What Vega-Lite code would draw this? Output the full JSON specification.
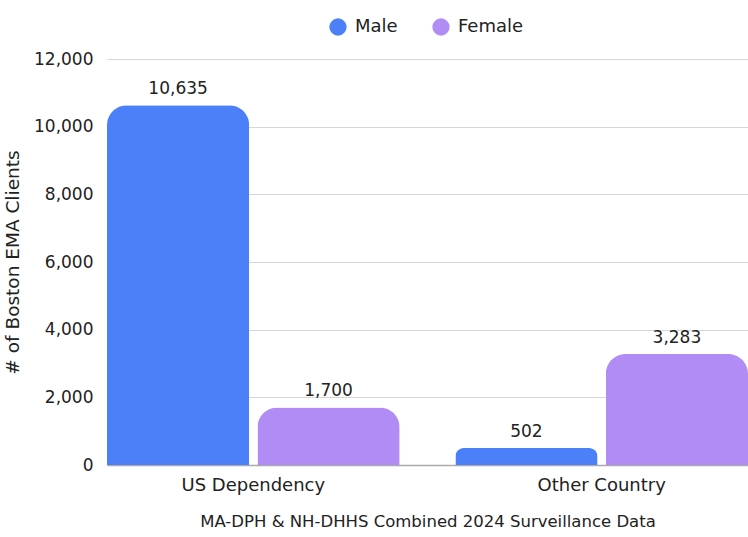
{
  "$schema": "https://vega.github.io/schema/vega-lite/v6.json",
  "width": 641,
  "height": 406,
  "autosize": {"type": "none"},
  "padding": {"left": 107, "top": 59, "right": 0, "bottom": 72},
  "background": "white",
  "config": {
    "view": {"stroke": null},
    "font": "DejaVu Sans",
    "text": {"font": "DejaVu Sans"}
  },
  "data": {
    "values": [
      {"category": "US Dependency", "sex": "Male", "clients": 10635},
      {"category": "US Dependency", "sex": "Female", "clients": 1700},
      {"category": "Other Country", "sex": "Male", "clients": 502},
      {"category": "Other Country", "sex": "Female", "clients": 3283}
    ]
  },
  "encoding": {
    "x": {
      "field": "category",
      "type": "nominal",
      "sort": ["US Dependency", "Other Country"],
      "scale": {"paddingInner": 0.16, "paddingOuter": 0},
      "axis": {
        "title": "MA-DPH & NH-DHHS Combined 2024 Surveillance Data",
        "titleFontSize": 16.5,
        "titleFontWeight": "normal",
        "titleColor": "#222",
        "titlePadding": 19,
        "labelAngle": 0,
        "labelFontSize": 18,
        "labelColor": "#222",
        "labelPadding": 11,
        "ticks": false,
        "domainColor": "#aaaaaa",
        "domainWidth": 1.5
      }
    },
    "xOffset": {
      "field": "sex",
      "type": "nominal",
      "sort": ["Male", "Female"],
      "scale": {"paddingInner": 0.055, "paddingOuter": 0}
    },
    "y": {
      "field": "clients",
      "type": "quantitative",
      "scale": {"domain": [0, 12000]},
      "axis": {
        "title": "# of Boston EMA Clients",
        "titleFontSize": 18.5,
        "titleFontWeight": "normal",
        "titleColor": "#222",
        "titlePadding": 11,
        "values": [0, 2000, 4000, 6000, 8000, 10000, 12000],
        "format": ",d",
        "labelFontSize": 17,
        "labelColor": "#222",
        "labelPadding": 14,
        "ticks": false,
        "domain": false,
        "gridColor": "#d6d6d6",
        "gridWidth": 1
      }
    }
  },
  "layer": [
    {
      "mark": {"type": "bar", "cornerRadiusTopLeft": 20, "cornerRadiusTopRight": 20},
      "encoding": {
        "color": {
          "field": "sex",
          "type": "nominal",
          "sort": ["Male", "Female"],
          "scale": {"domain": ["Male", "Female"], "range": ["#4b80f8", "#b08cf4"]},
          "legend": {
            "title": null,
            "orient": "none",
            "direction": "horizontal",
            "legendX": 222,
            "legendY": -41,
            "symbolType": "circle",
            "symbolSize": 300,
            "symbolStrokeWidth": 0,
            "labelFontSize": 18,
            "labelColor": "#222",
            "labelOffset": 8,
            "columnPadding": 34
          }
        }
      }
    },
    {
      "mark": {"type": "text", "baseline": "bottom", "dy": -7, "fontSize": 17, "color": "#222"},
      "encoding": {
        "text": {"field": "clients", "type": "quantitative", "format": ",d"}
      }
    }
  ]
}
